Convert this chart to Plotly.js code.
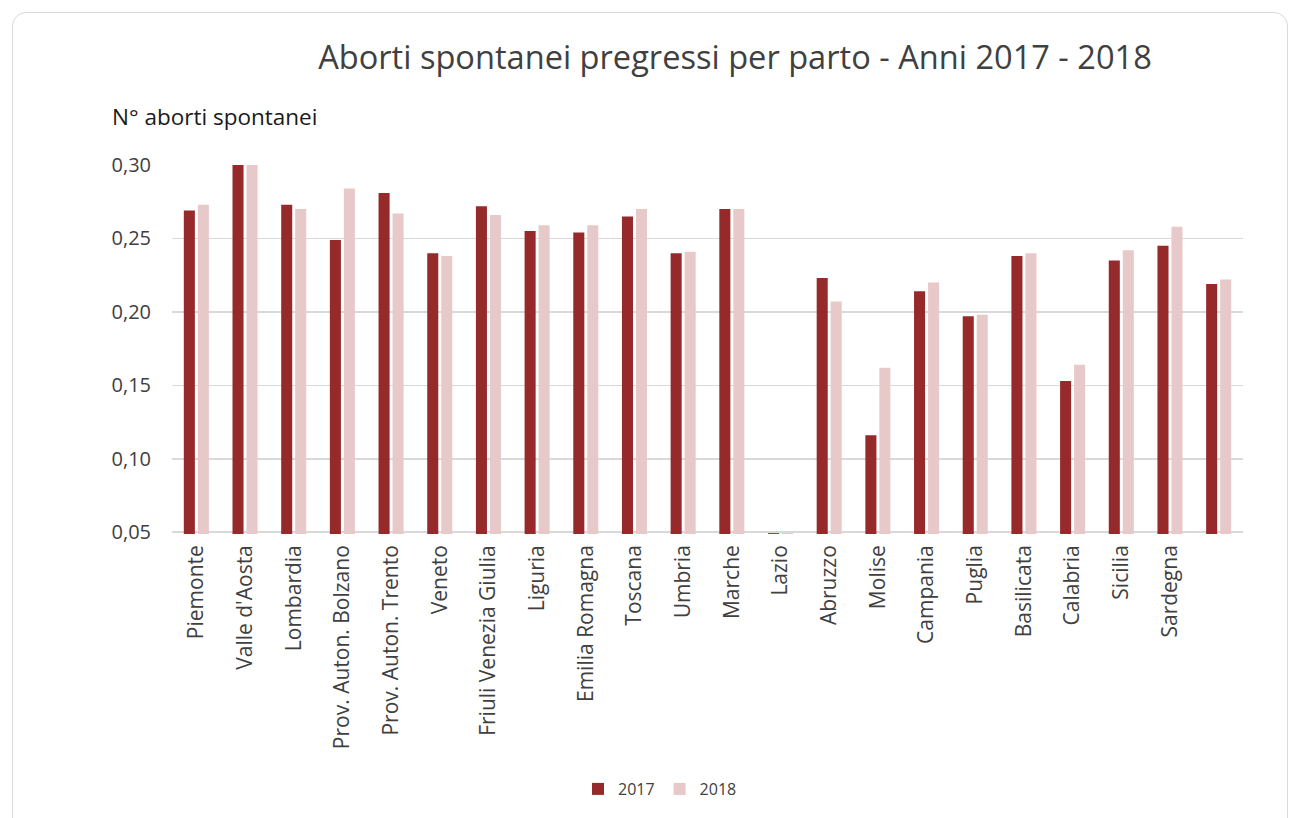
<!DOCTYPE html>
<html>
<head>
<meta charset="utf-8">
<script src="https://cdn.plot.ly/plotly-3.0.1.min.js"></script>
<style>
  html, body { margin: 0; padding: 0; background: #ffffff; }
  #frame { position: absolute; left: 12px; top: 12px; width: 1276px; height: 830px;
           border: 1.5px solid #d9d9d9; border-radius: 14px; box-sizing: border-box; }
  #chart { position: absolute; left: 0; top: 0; width: 1298px; height: 818px; }
</style>
</head>
<body>
<div id="frame"></div>
<div id="chart"></div>
<script>
const categories = ["Piemonte", "Valle d'Aosta", "Lombardia", "Prov. Auton. Bolzano", "Prov. Auton. Trento",
  "Veneto", "Friuli Venezia Giulia", "Liguria", "Emilia Romagna", "Toscana", "Umbria", "Marche",
  "Lazio", "Abruzzo", "Molise", "Campania", "Puglia", "Basilicata", "Calabria", "Sicilia", "Sardegna", "Italia"];
const tickLabels = ["Piemonte", "Valle d'Aosta", "Lombardia", "Prov. Auton. Bolzano", "Prov. Auton. Trento",
  "Veneto", "Friuli Venezia Giulia", "Liguria", "Emilia Romagna", "Toscana", "Umbria", "Marche",
  "Lazio", "Abruzzo", "Molise", "Campania", "Puglia", "Basilicata", "Calabria", "Sicilia", "Sardegna", ""];
const values2017 = [0.269, 0.301, 0.273, 0.249, 0.281, 0.240, 0.272, 0.255, 0.254, 0.265, 0.240, 0.270,
  0.0494, 0.223, 0.116, 0.214, 0.197, 0.238, 0.153, 0.235, 0.245, 0.219];
const values2018 = [0.273, 0.301, 0.270, 0.284, 0.267, 0.238, 0.266, 0.259, 0.259, 0.270, 0.241, 0.270,
  0.0494, 0.207, 0.162, 0.220, 0.198, 0.240, 0.164, 0.242, 0.258, 0.222];
const yTicks = [0.05, 0.10, 0.15, 0.20, 0.25, 0.30];

const textColor = "#404040";
const font = "'Open Sans', 'Noto Sans', sans-serif";

const traces = [
  { type: "bar", name: "2017", x: categories, y: values2017, marker: { color: "#962a2b" } },
  { type: "bar", name: "2018", x: categories, y: values2018, marker: { color: "#e8c9ca" } }
];

const layout = {
  width: 1298, height: 818,
  paper_bgcolor: "rgba(0,0,0,0)", plot_bgcolor: "rgba(0,0,0,0)",
  margin: { l: 172, r: 55, t: 165, b: 284 },
  separators: ",.",
  barmode: "group", bargap: 0.425, bargroupgap: 0.21,
  font: { family: font, color: textColor },
  title: { text: "Aborti spontanei pregressi per parto - Anni 2017 - 2018",
           font: { family: font, size: 32.6, color: textColor },
           xref: "container", x: 735 / 1298, xanchor: "center",
           yref: "container", y: 1 - 58 / 818, yanchor: "middle" },
  xaxis: { type: "category", tickvals: categories, ticktext: tickLabels, tickangle: -90,
           tickfont: { size: 21, color: textColor }, showgrid: false, showline: false,
           ticks: "", ticklen: 0, ticklabelstandoff: 6 },
  yaxis: { range: [0.0488, 0.3], tickvals: yTicks, tickformat: ".2f",
           tickfont: { size: 20, color: textColor }, showgrid: true, gridcolor: "#d9d9d9",
           gridwidth: 1.5, zeroline: false, showline: false, ticks: "", ticklabelstandoff: 20 },
  legend: { orientation: "h", xref: "container", x: 660 / 1298, xanchor: "center",
            yref: "container", y: 1 - 789 / 818, yanchor: "middle",
            font: { size: 16, color: textColor }, itemwidth: 30, traceorder: "normal" },
  annotations: [
    { text: "N° aborti spontanei", xref: "paper", yref: "paper", x: (110 - 172) / 1071,
      y: 1 + (165 - 117) / 369, xanchor: "left", yanchor: "middle", showarrow: false,
      font: { size: 22.5, color: "#1a1a1a" } }
  ],
  showlegend: true
};

Plotly.newPlot("chart", traces, layout, { displayModeBar: false, staticPlot: true });
</script>
</body>
</html>
